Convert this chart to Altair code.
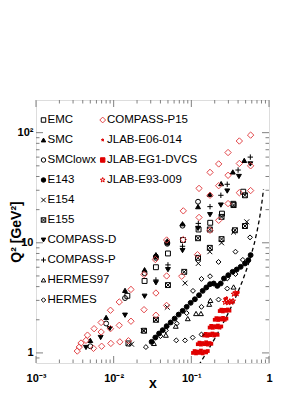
import altair as alt
import pandas as pd

# ---------------- data ----------------
EMC_x = [0.015, 0.025, 0.035, 0.050, 0.078, 0.124, 0.175, 0.248, 0.347, 0.466]
EMC_q2 = [3.3, 4.5, 6.0, 8.0, 10.6, 13.2, 15.2, 18.4, 22.6, 29.1]

SMC_x = [0.005, 0.008, 0.014, 0.025, 0.035, 0.049, 0.077, 0.122, 0.173, 0.242, 0.342, 0.48]
SMC_q2 = [1.3, 2.1, 3.7, 5.7, 7.8, 10.4, 14.9, 21.3, 27.5, 34.5, 44.0, 56.0]

SMClowx_x = [0.005, 0.008, 0.014, 0.025, 0.035, 0.049, 0.077, 0.122]
SMClowx_q2 = [1.15, 1.85, 3.15, 5.3, 7.3, 9.8, 14.3, 23.6]

E143_x = [0.0308, 0.0344, 0.0384, 0.0428, 0.0481, 0.0542, 0.0610, 0.0687, 0.0773, 0.0871,
          0.098, 0.111, 0.1256, 0.140, 0.156, 0.174, 0.194, 0.216, 0.239, 0.263,
          0.299, 0.340, 0.384, 0.432, 0.491, 0.542, 0.580, 0.035, 0.049]
E143_q2 = [1.26, 1.38, 1.50, 1.61, 1.75, 1.89, 2.05, 2.23, 2.41, 2.62,
           2.85, 3.07, 3.34, 3.66, 3.93, 4.21, 4.27, 4.06, 4.27, 4.74,
           5.08, 5.45, 5.72, 6.05, 6.49, 6.96, 7.73, 7.5, 10.0]

E154_x = [0.017, 0.024, 0.035, 0.049, 0.083, 0.123, 0.173, 0.245, 0.35, 0.517]
E154_q2 = [1.2, 1.6, 2.0, 2.6, 4.3, 6.5, 8.3, 10.0, 12.5, 15.5]

E155_x = [0.0155, 0.0246, 0.035, 0.050, 0.081, 0.122, 0.173, 0.245, 0.364, 0.49,
          0.122, 0.173, 0.245, 0.35, 0.49]
E155_q2 = [1.22, 1.59, 2.0, 4.13, 5.45, 7.3, 9.0, 10.8, 13.0, 14.2,
           11.0, 13.2, 17.2, 22.0, 27.0]

COMPASSD_x = [0.0044, 0.0068, 0.0089, 0.014, 0.025, 0.035, 0.050, 0.077, 0.122, 0.174, 0.24, 0.29, 0.41, 0.575]
COMPASSD_q2 = [1.12, 1.38, 1.66, 2.2, 3.27, 4.33, 5.7, 8.5, 13.5, 18.0, 22.0, 29.5, 40.0, 52.0]

COMPASSP_x = [0.035, 0.050, 0.077, 0.123, 0.174, 0.24, 0.29, 0.40, 0.575]
COMPASSP_q2 = [4.6, 6.3, 9.3, 15.0, 21.3, 27.0, 34.0, 45.8, 60.0]

HERMES97_x = [0.033, 0.047, 0.063, 0.09, 0.115, 0.133, 0.17, 0.176, 0.35]
HERMES97_q2 = [1.22, 1.45, 1.75, 2.05, 2.28, 2.28, 2.77, 3.0, 3.97]

HERMES_x = [0.026, 0.040, 0.064, 0.083, 0.104, 0.135, 0.047, 0.065, 0.087, 0.105, 0.135, 0.174,
            0.135, 0.224, 0.29, 0.37, 0.57, 0.224, 0.29, 0.37, 0.46]
HERMES_q2 = [1.13, 1.42, 1.30, 1.30, 1.38, 1.47, 1.60, 1.85, 2.3, 3.66, 2.62, 4.97,
             4.7, 6.7, 4.74, 8.3, 11.2, 3.05, 3.84, 5.2, 7.0]

P15_x = [0.0034, 0.0036, 0.0038, 0.0046, 0.0056, 0.0069, 0.0091, 0.0118, 0.0167, 0.0246, 0.0344,
         0.0481, 0.0788, 0.1256, 0.174, 0.225, 0.297, 0.415, 0.58,
         0.0044, 0.0069, 0.0091, 0.0118, 0.0167, 0.0246, 0.035, 0.0481, 0.0788, 0.1256,
         0.174, 0.225, 0.297, 0.415, 0.58,
         0.0055, 0.0070, 0.0092, 0.0120, 0.0155, 0.035, 0.048, 0.0752, 0.120, 0.174,
         0.225, 0.297, 0.415, 0.58]
P15_q2 = [1.04, 1.13, 1.23, 1.45, 1.66, 1.89, 2.44, 2.9, 3.77, 5.15, 7.05,
          10.6, 19.5, 31.2, 43.6, 52.0, 66.0, 84.0, 95.0,
          1.30, 1.55, 1.66, 1.78, 1.94, 2.47, 3.5, 5.0, 10.7, 17.0,
          27.0, 33.0, 41.0, 52.5, 50.0,
          1.10, 1.15, 1.22, 1.26, 1.29, 2.2, 2.7, 4.97, 7.8, 13.0,
          16.0, 22.7, 28.5, 29.8]

E06_x = [0.270, 0.285, 0.38, 0.40]
E06_q2 = [3.10, 3.16, 3.46, 3.55]

EG1_x = [0.105, 0.110, 0.115, 0.121, 0.127, 0.133, 0.140, 0.147, 0.155, 0.163,
         0.121, 0.127, 0.133, 0.140, 0.147, 0.155, 0.163, 0.172, 0.181,
         0.146, 0.153, 0.161, 0.169, 0.178, 0.187, 0.197, 0.207, 0.218,
         0.172, 0.180, 0.189, 0.199, 0.209, 0.220, 0.231, 0.243,
         0.200, 0.210, 0.221, 0.232, 0.244, 0.256, 0.269, 0.283,
         0.232, 0.243, 0.255, 0.268, 0.281, 0.295, 0.310]
EG1_q2 = [1.00, 1.04, 0.99, 1.03, 1.00, 1.05, 0.99, 1.03, 1.01, 1.04,
          1.20, 1.24, 1.19, 1.23, 1.20, 1.25, 1.19, 1.23, 1.21,
          1.44, 1.49, 1.43, 1.48, 1.45, 1.50, 1.44, 1.48, 1.46,
          1.70, 1.76, 1.69, 1.75, 1.71, 1.77, 1.70, 1.74,
          2.00, 2.07, 1.99, 2.06, 2.01, 2.08, 2.00, 2.05,
          2.40, 2.47, 2.38, 2.46, 2.41, 2.48, 2.42]

E93_x = [0.272, 0.285, 0.299, 0.313, 0.328, 0.344, 0.352, 0.368, 0.385]
E93_q2 = [2.88, 2.95, 2.86, 2.94, 2.89, 2.96, 3.42, 3.50, 3.45]

CURVE_x = [0.125, 0.13, 0.16, 0.2, 0.25, 0.3, 0.35, 0.4, 0.45, 0.5, 0.55, 0.6, 0.65, 0.7, 0.75, 0.8, 0.85]
CURVE_q2 = [0.77, 0.81, 1.03, 1.35, 1.8, 2.31, 2.9, 3.6, 4.4, 5.4, 6.6, 8.1, 10.0, 12.6, 16.2, 21.6, 30.6]

X_MAJOR = [0.001, 0.01, 0.1, 1]
Y_MAJOR = [1, 10, 100]
X_MINOR = [0.002, 0.003, 0.004, 0.005, 0.006, 0.007, 0.008, 0.009,
           0.02, 0.03, 0.04, 0.05, 0.06, 0.07, 0.08, 0.09,
           0.2, 0.3, 0.4, 0.5, 0.6, 0.7, 0.8, 0.9]
Y_MINOR = [0.9, 2, 3, 4, 5, 6, 7, 8, 9, 20, 30, 40, 50, 60, 70, 80, 90]

BLACK_NAMES = ["EMC", "SMC", "SMClowx", "E143", "E154", "E155",
               "COMPASS-D", "COMPASS-P", "HERMES97", "HERMES"]
RED_NAMES = ["COMPASS-P15", "JLAB-E06-014", "JLAB-EG1-DVCS", "JLAB-E93-009"]
ALL_NAMES = BLACK_NAMES + RED_NAMES

# ---------------- tables ----------------
def tbl(xs, qs, name):
    return pd.DataFrame({"x": xs, "q2": qs, "series": name})

points = pd.concat([
    tbl(EMC_x, EMC_q2, "EMC"), tbl(SMC_x, SMC_q2, "SMC"),
    tbl(SMClowx_x, SMClowx_q2, "SMClowx"), tbl(E143_x, E143_q2, "E143"),
    tbl(E154_x, E154_q2, "E154"), tbl(E155_x, E155_q2, "E155"),
    tbl(COMPASSD_x, COMPASSD_q2, "COMPASS-D"), tbl(COMPASSP_x, COMPASSP_q2, "COMPASS-P"),
    tbl(HERMES97_x, HERMES97_q2, "HERMES97"), tbl(HERMES_x, HERMES_q2, "HERMES"),
    tbl(P15_x, P15_q2, "COMPASS-P15"), tbl(E06_x, E06_q2, "JLAB-E06-014"),
    tbl(E93_x, E93_q2, "JLAB-E93-009"),
], ignore_index=True)
eg1 = tbl(EG1_x, EG1_q2, "JLAB-EG1-DVCS")
curve = pd.DataFrame({"x": CURVE_x, "q2": CURVE_q2})

# ---------------- styling ----------------
FONT = "Liberation Sans"
RED = "#e00000"
PINK = "#e2474a"
TICK = "#808080"

X_PATH = "M-1,-1L1,1M-1,1L1,-1"
BOXX_PATH = "M-1,-1L1,-1L1,1L-1,1L-1,-1M-1,-1L1,1M1,-1L-1,1"
PLUS_PATH = "M-1.1,0L1.1,0M0,-1.1L0,1.1"
BIG_DIAMOND = "M0,-1.3L1.3,0L0,1.3L-1.3,0Z"
SMALL_STAR = "M0,-0.6L0.14,-0.19L0.57,-0.19L0.22,0.07L0.35,0.49L0,0.24L-0.35,0.49L-0.22,0.07L-0.57,-0.19L-0.14,-0.19Z"
STAR = "M0,-1.1L0.26,-0.36L1.05,-0.34L0.42,0.14L0.65,0.89L0,0.44L-0.65,0.89L-0.42,0.14L-1.05,-0.34L-0.26,-0.36Z"

SHAPES = ["square", "triangle-up", "circle", "circle", X_PATH, BOXX_PATH,
          "triangle-down", PLUS_PATH, "triangle-up", "diamond",
          BIG_DIAMOND, SMALL_STAR, "square", STAR]
FILLS = ["transparent", "black", "transparent", "black", "transparent", "transparent",
         "black", "transparent", "transparent", "transparent",
         "transparent", RED, RED, "transparent"]
STROKES = ["black"] * 10 + [PINK, RED, RED, RED]

shape_enc = alt.Shape("series:N", scale=alt.Scale(domain=ALL_NAMES, range=SHAPES), legend=None)
fill_enc = alt.Fill("series:N", scale=alt.Scale(domain=ALL_NAMES, range=FILLS), legend=None)
stroke_enc = alt.Stroke("series:N", scale=alt.Scale(domain=ALL_NAMES, range=STROKES), legend=None)

xs = alt.Scale(type="log", domain=[0.001, 1], nice=False)
ys = alt.Scale(type="log", domain=[0.81, 198], nice=False)

W, H = 233, 263
MAJ, MIN = 7, 3.5

ax_x = alt.Axis(values=X_MAJOR,
                labelExpr="datum.value > 0.5 ? '1' : datum.value > 0.05 ? '10⁻¹' : datum.value > 0.005 ? '10⁻²' : '10⁻³'",
                ticks=False, domain=False, grid=False, labelFlush=False,
                labelOverlap=False, labelFont=FONT, labelFontSize=11, labelFontWeight="bold",
                labelColor="black", labelPadding=9, labelBaseline="top",
                title="x", titleFont=FONT, titleFontSize=14, titleFontWeight="bold",
                titleColor="black", titleX=W / 2, titleY=24, titleBaseline="alphabetic",
                titleAlign="center")
ax_y = alt.Axis(values=Y_MAJOR,
                labelExpr="datum.value > 50 ? '10²' : datum.value > 5 ? '10' : '1'",
                ticks=False, domain=False, grid=False, labelFlush=False,
                labelOverlap=False, labelFont=FONT, labelFontSize=11, labelFontWeight="bold",
                labelColor="black", labelPadding=3, labelBaseline="middle",
                title="Q² [GeV²]", titleFont=FONT, titleFontSize=14, titleFontWeight="bold",
                titleColor="black", titleX=-16, titleY=H / 2, titleAngle=270,
                titleBaseline="alphabetic", titleAlign="center")


def X(field):
    return alt.X(field, scale=xs, axis=ax_x)


def Y(field):
    return alt.Y(field, scale=ys, axis=ax_y)


def xticks(vals, y0, y1):
    return alt.Chart(pd.DataFrame({"x": vals})).mark_rule(color=TICK, strokeWidth=1).encode(
        x=X("x:Q"), y=alt.value(y0), y2=alt.value(y1))


def yticks(vals, x0, x1):
    return alt.Chart(pd.DataFrame({"q2": vals})).mark_rule(color=TICK, strokeWidth=1).encode(
        y=Y("q2:Q"), x=alt.value(x0), x2=alt.value(x1))


tick_layers = [
    xticks(X_MAJOR, H, H - MAJ), xticks(X_MINOR, H, H - MIN),
    xticks(X_MAJOR, 0, MAJ), xticks(X_MINOR, 0, MIN),
    yticks(Y_MAJOR, 0, MAJ), yticks(Y_MINOR, 0, MIN),
    yticks(Y_MAJOR, W, W - MAJ), yticks(Y_MINOR, W, W - MIN),
]

curve_layer = alt.Chart(curve).mark_line(
    color="black", strokeDash=[4, 3], strokeWidth=1.3, clip=True
).encode(x=X("x:Q"), y=Y("q2:Q"))

eg1_layer = alt.Chart(eg1).mark_point(shape="square", size=14, filled=True, color=RED, opacity=1).encode(
    x=X("x:Q"), y=Y("q2:Q"))

points_layer = alt.Chart(points).mark_point(size=24, strokeWidth=1, opacity=1).encode(
    x=X("x:Q"), y=Y("q2:Q"),
    shape=shape_enc, fill=fill_enc, stroke=stroke_enc,
)

# ---------------- legend drawn as two columns of entries ----------------
one = pd.DataFrame({"a": [0]})
legend_layers = []
for i, name in enumerate(ALL_NAMES):
    col, row = (0, i) if i < 10 else (1, i - 10)
    sx = 7.5 if col == 0 else 66.7
    tx = 11.5 if col == 0 else 71.0
    sy = 20 + 20 * row
    legend_layers.append(
        alt.Chart(one).mark_point(
            shape=SHAPES[i], size=20, strokeWidth=1, opacity=1,
            fill=FILLS[i], stroke=STROKES[i]
        ).encode(x=alt.value(sx), y=alt.value(sy))
    )
    legend_layers.append(
        alt.Chart(one).mark_text(
            text=name, align="left", baseline="middle", font=FONT, fontSize=11.5, color="black"
        ).encode(x=alt.value(tx), y=alt.value(sy))
    )

chart = alt.layer(
    curve_layer, *tick_layers, eg1_layer, points_layer, *legend_layers
).properties(
    width=W, height=H,
    autosize=alt.AutoSizeParams(type="none"),
    padding={"left": 28, "top": 92, "right": 10, "bottom": 25},
).configure_view(
    stroke=TICK, strokeWidth=1
).configure(
    font=FONT
)

chart.save("out.html", embed_options={"renderer": "svg", "actions": False})
